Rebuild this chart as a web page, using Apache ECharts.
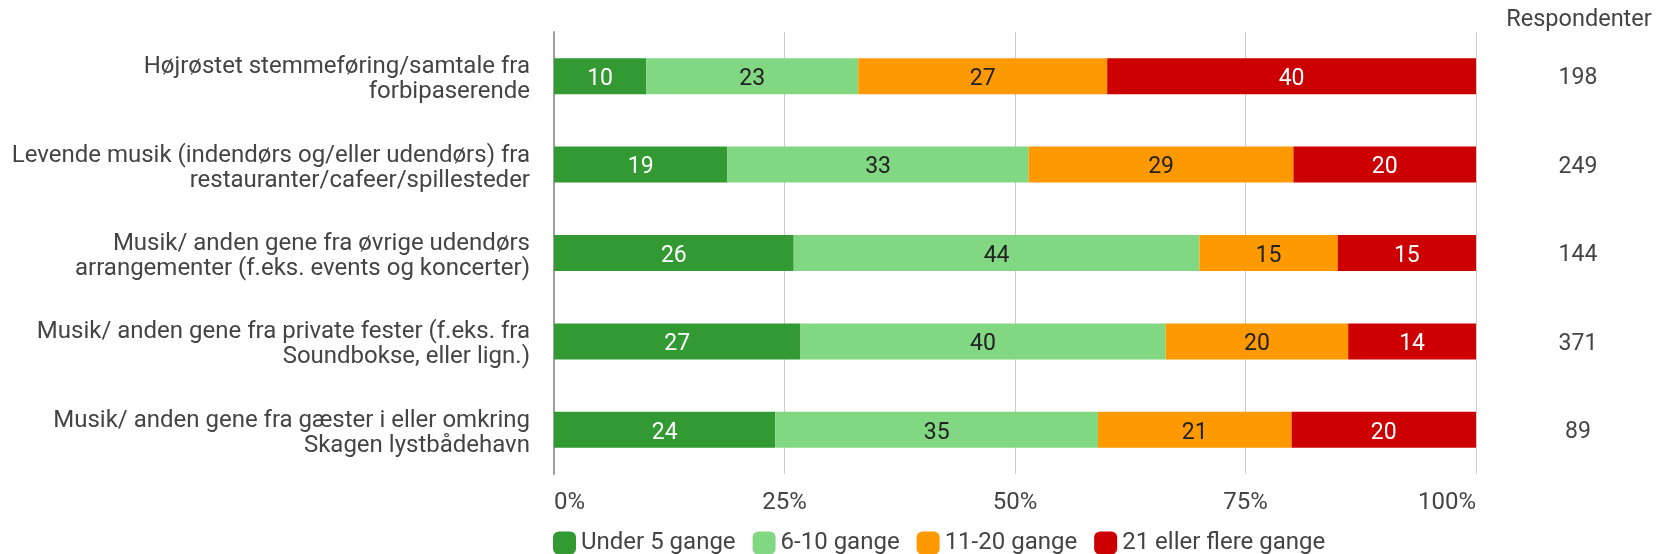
<!DOCTYPE html>
<html>
<head>
<meta charset="utf-8">
<script src="https://cdn.jsdelivr.net/npm/echarts@6/dist/echarts.min.js"></script>
<style>
  html, body { margin: 0; padding: 0; background: #fff; }
  #chart { width: 1658px; height: 554px; }
</style>
</head>
<body>
<div id="chart"></div>
<script>
// Categories (top to bottom)
const categories = [
  'Højrøstet stemmeføring/samtale fra\nforbipaserende',
  'Levende musik (indendørs og/eller udendørs) fra\nrestauranter/cafeer/spillesteder',
  'Musik/ anden gene fra øvrige udendørs\narrangementer (f.eks. events og koncerter)',
  'Musik/ anden gene fra private fester (f.eks. fra\nSoundbokse, eller lign.)',
  'Musik/ anden gene fra gæster i eller omkring\nSkagen lystbådehavn'
];

// Respondent counts per category
const respondents = [198, 249, 144, 371, 89];

// Percent shares per frequency group
const seriesNames = ['Under 5 gange', '6-10 gange', '11-20 gange', '21 eller flere gange'];
const under5 = [10, 19, 26, 27, 24];
const from6to10 = [23, 33, 44, 40, 35];
const from11to20 = [27, 29, 15, 20, 21];
const over21 = [40, 20, 15, 14, 20];

const xTicks = ['0%', '25%', '50%', '75%', '100%'];

const colors = ['#339933', '#82d882', '#ff9900', '#cc0000'];
const labelColors = ['#ffffff', '#222222', '#222222', '#ffffff'];

const groups = [under5, from6to10, from11to20, over21];
// Row totals (rounded shares can sum to 101), bars fill 100%
const rowTotals = categories.map((_, i) => groups.reduce((s, g) => s + g[i], 0));

const FONT = 'Roboto';
const TEXT = '#444444';

// A thin empty leading line nudges label blocks slightly downward
const nudge = (text) => '{s| }\n' + text;

const series = groups.map((vals, k) => ({
  name: seriesNames[k],
  type: 'bar',
  stack: 'share',
  barWidth: 36,
  itemStyle: { color: colors[k] },
  label: {
    show: true,
    position: 'inside',
    offset: [0, 3],
    color: labelColors[k],
    fontFamily: FONT,
    fontSize: 23,
    formatter: p => String(p.data.raw)
  },
  emphasis: { disabled: true },
  data: vals.map((v, i) => ({ value: v / rowTotals[i] * 100, raw: v }))
}));

const chart = echarts.init(document.getElementById('chart'), null, { renderer: 'canvas' });
chart.setOption({
  animation: false,
  backgroundColor: '#ffffff',
  textStyle: { fontFamily: FONT },
  title: {
    text: 'Respondenter',
    left: 1579,
    top: 8,
    padding: 0,
    textAlign: 'center',
    textStyle: { fontFamily: FONT, fontSize: 23.5, fontWeight: 'normal', color: TEXT }
  },
  legend: {
    left: 553,
    top: 531,
    padding: 0,
    itemWidth: 23,
    itemHeight: 23,
    itemGap: 17,
    icon: 'roundRect',
    textStyle: { fontFamily: FONT, fontSize: 24, color: TEXT },
    data: seriesNames
  },
  grid: { left: 554, right: 182, top: 32, bottom: 80, containLabel: false },
  xAxis: {
    type: 'value',
    min: 0,
    max: 100,
    interval: 25,
    axisLine: { show: false },
    axisTick: { show: false },
    splitLine: { show: true, lineStyle: { color: '#cccccc', width: 1 } },
    axisLabel: {
      fontFamily: FONT,
      fontSize: 24,
      color: TEXT,
      margin: 17,
      alignMinLabel: 'left',
      alignMaxLabel: 'right',
      formatter: v => xTicks[Math.round(v / 25)]
    }
  },
  yAxis: [
    {
      type: 'category',
      inverse: true,
      data: categories,
      axisLine: { show: true, lineStyle: { color: '#9e9e9e', width: 2 } },
      axisTick: { show: false },
      axisLabel: {
        fontFamily: FONT,
        fontSize: 24,
        lineHeight: 25,
        color: TEXT,
        margin: 24,
        align: 'right',
        formatter: v => nudge(v),
        rich: { s: { fontSize: 1, lineHeight: 7 } }
      }
    },
    {
      type: 'category',
      inverse: true,
      position: 'right',
      data: respondents.map(String),
      axisLine: { show: false },
      axisTick: { show: false },
      axisLabel: {
        fontFamily: FONT,
        fontSize: 23,
        lineHeight: 26,
        color: TEXT,
        margin: 102,
        align: 'center',
        formatter: v => nudge(v),
        rich: { s: { fontSize: 1, lineHeight: 5 } }
      }
    }
  ],
  series: series
});
</script>
</body>
</html>
